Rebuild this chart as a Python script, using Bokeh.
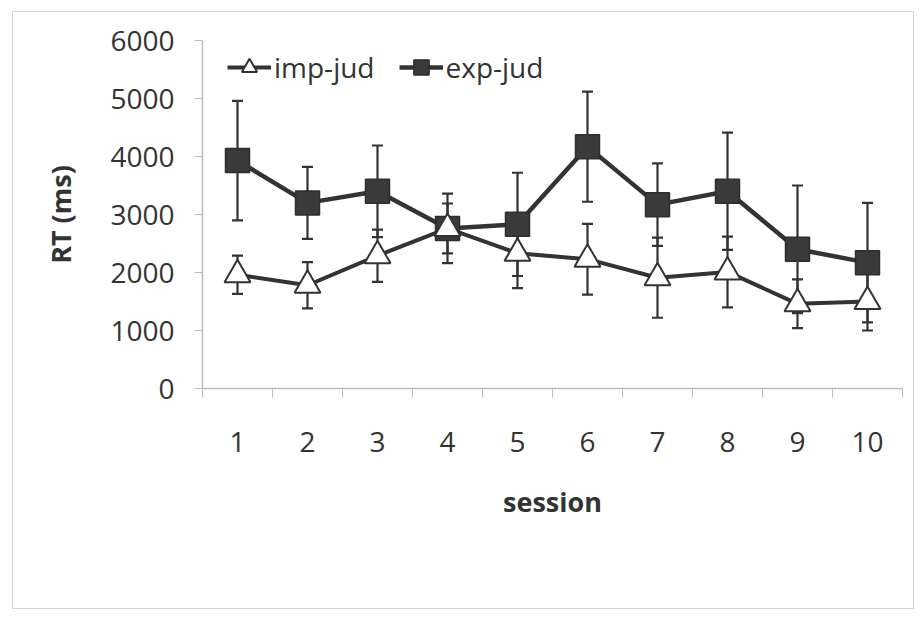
from bokeh.plotting import figure
from bokeh.models import (ColumnDataSource, Whisker, TeeHead, FixedTicker,
                          Legend, LegendItem)
from bokeh.embed import file_html
from bokeh.resources import INLINE

# ---- data ----
sessions = [1, 2, 3, 4, 5, 6, 7, 8, 9, 10]
imp_jud = [1960, 1780, 2290, 2760, 2330, 2230, 1910, 2010, 1460, 1500]
imp_err = [330, 400, 450, 430, 600, 610, 690, 610, 420, 500]
exp_jud = [3930, 3200, 3400, 2760, 2830, 4170, 3170, 3400, 2400, 2170]
exp_err = [1030, 620, 790, 600, 890, 950, 710, 1010, 1100, 1030]
y_ticks = [0, 1000, 2000, 3000, 4000, 5000, 6000]
x_label = "session"
y_label = "RT (ms)"

FONT = "Open Sans"
DARK = "#333333"
AXIS = "#bdbdbd"

imp_src = ColumnDataSource(dict(
    x=sessions, y=imp_jud,
    upper=[v + e for v, e in zip(imp_jud, imp_err)],
    lower=[v - e for v, e in zip(imp_jud, imp_err)]))
exp_src = ColumnDataSource(dict(
    x=sessions, y=exp_jud,
    upper=[v + e for v, e in zip(exp_jud, exp_err)],
    lower=[v - e for v, e in zip(exp_jud, exp_err)]))

p = figure(width=900, height=596,
           x_range=(0.5, len(sessions) + 0.5), y_range=(y_ticks[0], y_ticks[-1]),
           output_backend="svg", toolbar_location=None,
           min_border_left=189, min_border_right=11,
           min_border_top=28, min_border_bottom=220)
p.margin = (12, 0, 0, 13)
p.styles = {"outline": "1px solid #d4d4d4"}
p.outline_line_color = None
p.xgrid.visible = False
p.ygrid.visible = False
p.background_fill_color = "white"
p.border_fill_color = "white"

# error bars
for src in (exp_src, imp_src):
    w = Whisker(base="x", upper="upper", lower="lower", source=src,
                line_color=DARK, line_width=2.2, level="underlay",
                upper_head=TeeHead(size=11, line_color=DARK, line_width=2.2),
                lower_head=TeeHead(size=11, line_color=DARK, line_width=2.2))
    p.add_layout(w)

exp_line = p.line("x", "y", source=exp_src, line_color=DARK, line_width=4.5)
imp_line = p.line("x", "y", source=imp_src, line_color=DARK, line_width=4)
exp_mark = p.scatter("x", "y", source=exp_src, marker="square", size=24,
                     fill_color="#3a3a3a", line_color="#2e2e2e", line_width=1.5)
imp_mark = p.scatter("x", "y", source=imp_src, marker="triangle", size=26,
                     fill_color="white", line_color=DARK, line_width=2)

# axes
xa = p.xaxis[0]
xa.ticker = FixedTicker(ticks=sessions,
                        minor_ticks=[s - 0.5 for s in sessions] + [sessions[-1] + 0.5])
xa.major_tick_line_color = None
xa.major_tick_out = 0
xa.major_tick_in = 0
xa.minor_tick_line_color = AXIS
xa.minor_tick_out = 9
xa.minor_tick_in = 0
xa.axis_line_color = AXIS
xa.axis_line_width = 1.5
xa.major_label_standoff = 34
xa.major_label_text_font = FONT
xa.major_label_text_font_size = "28px"
xa.major_label_text_color = DARK
xa.axis_label = x_label
xa.axis_label_text_font = FONT
xa.axis_label_text_font_style = "bold"
xa.axis_label_text_font_size = "27px"
xa.axis_label_text_color = DARK
xa.axis_label_standoff = 28

ya = p.yaxis[0]
ya.ticker = FixedTicker(ticks=y_ticks)
ya.minor_tick_line_color = None
ya.major_tick_out = 8
ya.major_tick_in = 0
ya.major_tick_line_color = AXIS
ya.axis_line_color = AXIS
ya.axis_line_width = 1.5
ya.major_label_standoff = 20
ya.major_label_text_font = FONT
ya.major_label_text_font_size = "28px"
ya.major_label_text_color = DARK
ya.axis_label = y_label
ya.axis_label_text_font = FONT
ya.axis_label_text_font_style = "bold"
ya.axis_label_text_font_size = "27px"
ya.axis_label_text_color = DARK
ya.axis_label_standoff = 28

legend = Legend(items=[LegendItem(label="imp-jud", renderers=[imp_line, imp_mark]),
                       LegendItem(label="exp-jud", renderers=[exp_line, exp_mark])],
                orientation="horizontal", location=(25, 302),
                glyph_width=44, glyph_height=38, label_standoff=3, spacing=24,
                padding=0, margin=0, border_line_color=None,
                background_fill_alpha=0,
                label_text_font=FONT, label_text_font_size="28px",
                label_text_color=DARK)
p.add_layout(legend)

open("out.html", "w").write(file_html(p, INLINE))
